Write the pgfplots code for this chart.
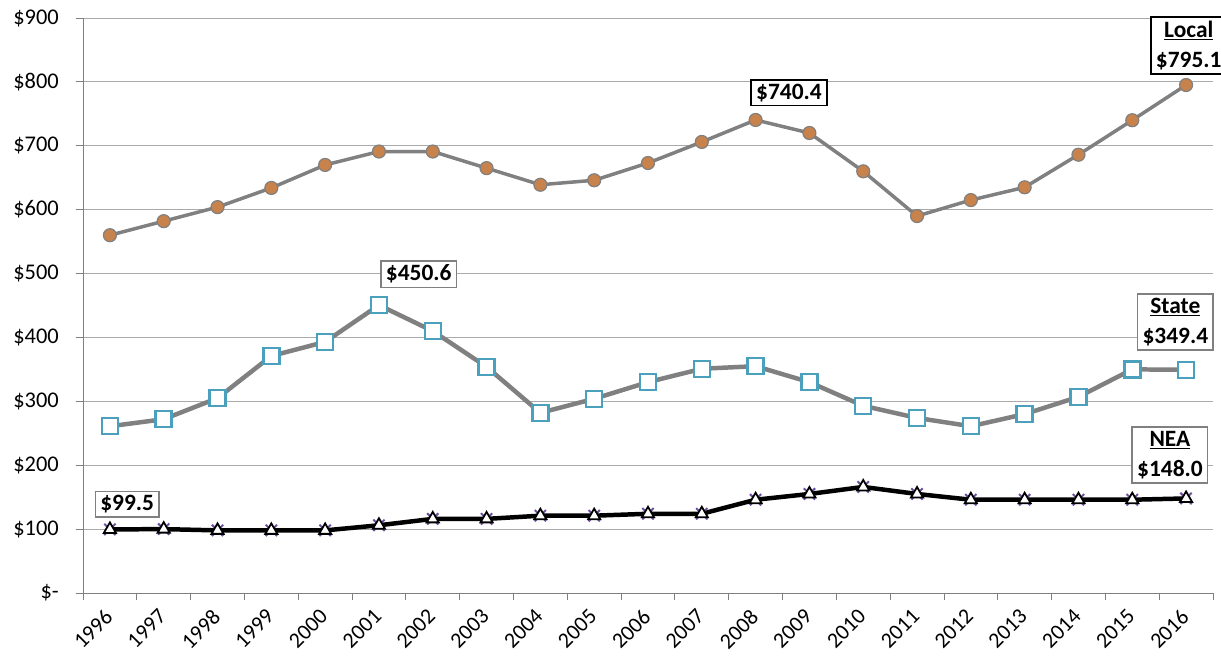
\documentclass[border=0pt]{standalone}
\usepackage{pgfplots}
\pgfplotsset{compat=1.18}
\usepackage{fontspec}
\setmainfont{Carlito}
\definecolor{lgray}{RGB}{128,128,128}
\definecolor{gridc}{RGB}{170,170,170}
\definecolor{lorange}{RGB}{200,130,75}
\definecolor{steal}{RGB}{75,160,190}
\definecolor{npurple}{RGB}{110,80,160}
\begin{document}
\begin{tikzpicture}
\useasboundingbox (-83bp,-63bp) rectangle (1138bp,593bp);
\begin{axis}[
  at={(0,0)}, anchor=south west,
  scale only axis, width=1130bp, height=575bp,
  xmin=-0.5, xmax=20.5, ymin=0, ymax=900,
  axis lines=left, axis line style={-, draw=lgray, line width=0.8pt},
  clip=false,
  xtick={0,...,20},
  xticklabels={1996,1997,1998,1999,2000,2001,2002,2003,2004,2005,2006,2007,2008,2009,2010,2011,2012,2013,2014,2015,2016},
  minor xtick={-0.5,0.5,...,20.5},
  major x tick style={draw=none},
  minor x tick style={draw=lgray, line width=0.8pt},
  minor tick length=7bp,
  ytick={0,100,...,900},
  yticklabels={\$-,\$100,\$200,\$300,\$400,\$500,\$600,\$700,\$800,\$900},
  y tick style={draw=lgray, line width=0.8pt},
  major tick length=7bp,
  tick align=outside,
  ymajorgrids, grid style={gridc, line width=0.8pt},
  ticklabel style={font=\fontsize{22.5}{26}\selectfont},
  xticklabel style={rotate=45, anchor=north east, inner sep=1pt, yshift=0bp, xshift=-9bp, font=\fontsize{22}{26}\selectfont},
  yticklabel style={inner sep=1pt, xshift=-16bp},
]
\addplot[lgray, line width=3.5pt, mark=*, mark size=6.5bp, mark options={fill=lorange, draw=lgray, line width=1.2pt}] coordinates {
(0,560) (1,582) (2,604) (3,634) (4,670) (5,691) (6,691) (7,665) (8,639) (9,646) (10,673) (11,706) (12,740.4) (13,720) (14,660) (15,590) (16,615) (17,635) (18,686) (19,740) (20,795.1)};
\addplot[lgray, line width=4.5pt, mark=square*, mark size=8bp, mark options={fill=white, draw=steal, line width=2.5pt}] coordinates {
(0,261) (1,272) (2,305) (3,371) (4,393) (5,450.6) (6,410) (7,354) (8,282) (9,304) (10,330) (11,351) (12,355) (13,330) (14,293) (15,274) (16,261) (17,280) (18,307) (19,350) (20,349.4)};
\addplot[only marks, mark=x, mark size=8bp, mark options={draw=npurple, line width=2pt}] coordinates {
(0,99.5) (1,100) (2,98) (3,98) (4,98) (5,106) (6,116) (7,116) (8,121) (9,121) (10,124) (11,124) (12,146) (13,155) (14,166) (15,155) (16,146) (17,146) (18,146) (19,146) (20,148)};
\addplot[black, line width=4.5pt, mark=triangle*, mark size=7bp, mark options={fill=white, draw=black, line width=1.8pt}] coordinates {
(0,99.5) (1,100) (2,98) (3,98) (4,98) (5,106) (6,116) (7,116) (8,121) (9,121) (10,124) (11,124) (12,146) (13,155) (14,166) (15,155) (16,146) (17,146) (18,146) (19,146) (20,148)};
\tikzset{lbl/.style={fill=white, line width=1.5pt, align=center, font=\bfseries\fontsize{23.5}{30}\selectfont, inner xsep=5bp, inner ysep=4bp}}
\node[lbl, draw=black] at (axis cs:20.05,857) {\underline{Local}\\\$795.1};
\node[lbl, draw=black] at (axis cs:12.62,783) {\$740.4};
\node[lbl, draw=lgray] at (axis cs:5.74,499) {\$450.6};
\node[lbl, draw=lgray] at (axis cs:19.8,424) {\underline{State}\\\$349.4};
\node[lbl, draw=lgray] at (axis cs:19.7,216) {\underline{NEA}\\\$148.0};
\node[lbl, draw=lgray] at (axis cs:0.32,139) {\$99.5};
\end{axis}
\end{tikzpicture}
\end{document}
